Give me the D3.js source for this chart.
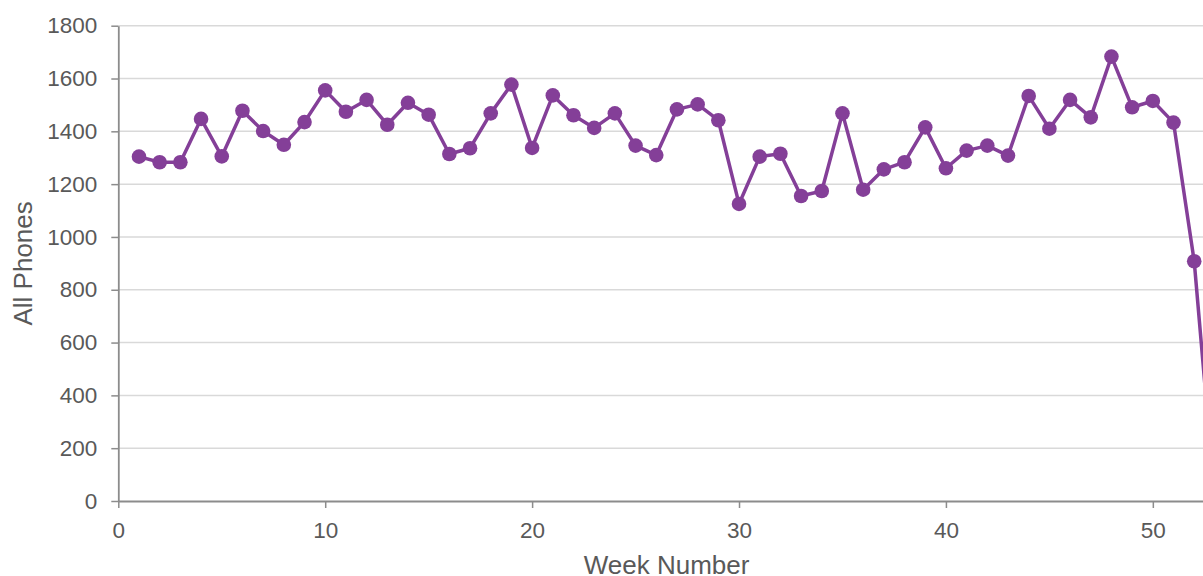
<!DOCTYPE html>
<html>
<head>
<meta charset="utf-8">
<script src="https://cdn.jsdelivr.net/npm/d3@7"></script>
<style>
  html, body { margin: 0; padding: 0; overflow: hidden; background: #fff; }
  text { font-family: "Liberation Sans", Arial, sans-serif; }
</style>
</head>
<body>
<svg id="chart"></svg>
<script>
// weekly counts
const weeks = d3.range(1, 54);
const phones = [
  1304, 1283, 1283, 1447, 1305, 1478, 1401, 1349, 1435, 1555,
  1474, 1519, 1425, 1508, 1463, 1314, 1336, 1468, 1577, 1337,
  1536, 1461, 1413, 1468, 1346, 1310, 1483, 1502, 1442, 1125,
  1304, 1315, 1155, 1174, 1468, 1179, 1256, 1283, 1415, 1260,
  1327, 1346, 1308, 1534, 1410, 1519, 1453, 1683, 1491, 1515,
  1433, 908, 0
];
const yTicks = [0, 200, 400, 600, 800, 1000, 1200, 1400, 1600, 1800];
const xTicks = [0, 10, 20, 30, 40, 50];

const margin = {top: 25.7, left: 118.3};
const innerW = 1096.6, innerH = 475.3;
const width = 1240, height = 576;
const textColor = '#595959';
const lineColor = '#843f98';

const svg = d3.select('#chart').attr('width', width).attr('height', height);
const g = svg.append('g').attr('transform', `translate(${margin.left},${margin.top})`);

const x = d3.scaleLinear().domain([0, 53]).range([0, innerW]);
const y = d3.scaleLinear().domain([0, 1800]).range([innerH, 0]);

// grid
g.append('g')
  .selectAll('line')
  .data(yTicks.filter(d => d > 0))
  .join('line')
    .attr('x1', 0).attr('x2', innerW)
    .attr('y1', d => y(d)).attr('y2', d => y(d))
    .attr('stroke', '#d9d9d9')
    .attr('stroke-width', 1.5);

const yAxis = g.append('g')
  .call(d3.axisLeft(y).tickValues(yTicks).tickFormat(d3.format('d'))
    .tickSize(7).tickPadding(14).tickSizeOuter(0));
const xAxis = g.append('g')
  .attr('transform', `translate(0,${innerH})`)
  .call(d3.axisBottom(x).tickValues(xTicks).tickFormat(d3.format('d'))
    .tickSize(7).tickPadding(14).tickSizeOuter(0));

[yAxis, xAxis].forEach(a => {
  a.select('.domain').attr('stroke', '#8c8c8c').attr('stroke-width', 1.8);
  a.selectAll('.tick line').attr('stroke', '#8c8c8c').attr('stroke-width', 1.5);
  a.selectAll('.tick text')
    .attr('fill', textColor)
    .attr('font-size', 22.5)
    .attr('font-family', '"Liberation Sans", Arial, sans-serif');
});

// axis titles
svg.append('text')
  .attr('x', margin.left + innerW / 2)
  .attr('y', 574)
  .attr('text-anchor', 'middle')
  .attr('fill', textColor)
  .attr('font-size', 26)
  .text('Week Number');

svg.append('text')
  .attr('transform', `translate(32,${margin.top + innerH / 2}) rotate(-90)`)
  .attr('text-anchor', 'middle')
  .attr('fill', textColor)
  .attr('font-size', 26)
  .text('All Phones');

// series
const line = d3.line().x((d, i) => x(weeks[i])).y(d => y(d));

g.append('path')
  .datum(phones)
  .attr('fill', 'none')
  .attr('stroke', lineColor)
  .attr('stroke-width', 3.5)
  .attr('stroke-linejoin', 'round')
  .attr('d', line);

g.append('g')
  .selectAll('circle')
  .data(phones)
  .join('circle')
    .attr('cx', (d, i) => x(weeks[i]))
    .attr('cy', d => y(d))
    .attr('r', 7.3)
    .attr('fill', lineColor);
</script>
</body>
</html>
